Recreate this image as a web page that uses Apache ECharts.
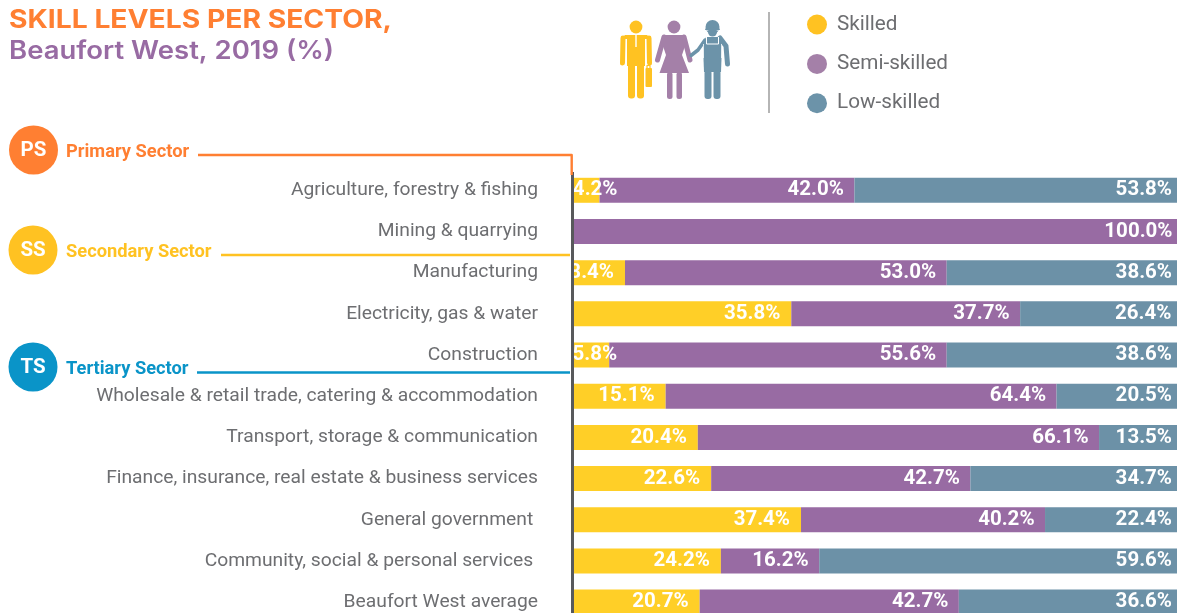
<!DOCTYPE html>
<html><head><meta charset="utf-8">
<style>html,body{margin:0;padding:0;background:#fff;overflow:hidden}#c{width:1177px;height:613px}</style>
<script src="https://cdn.jsdelivr.net/npm/echarts@6/dist/echarts.min.js"></script></head>
<body><div id="c"></div>
<script>
const categories = ['Agriculture, forestry & fishing','Mining & quarrying','Manufacturing','Electricity, gas & water','Construction','Wholesale & retail trade, catering & accommodation','Transport, storage & communication','Finance, insurance, real estate & business services','General government ','Community, social & personal services ','Beaufort West average'];
const skilled = [4.2,null,8.4,35.8,5.8,15.1,20.4,22.6,37.4,24.2,20.7];
const semiSkilled = [42.0,100.0,53.0,37.7,55.6,64.4,66.1,42.7,40.2,16.2,42.7];
const lowSkilled = [53.8,null,38.6,26.4,38.6,20.5,13.5,34.7,22.4,59.6,36.6];
const seriesNames = ['Skilled','Semi-skilled','Low-skilled'];
const barColors = ['#FFCF27','#986BA3','#6C91A7'];
const legendColors = ['#FFC222','#A480A8','#6C93A9'];
const labelShift = [{0:29,4:19},{1:2},{}];

const FONT='Roboto';
const lab=(d)=>({show:true,position:'insideRight',distance:d,color:'#fff',fontFamily:FONT,fontWeight:'bold',fontSize:20.5,
  formatter:p=>p.value==null?'':p.value.toFixed(1)+'%'});
const ser=(i,arr,d)=>({name:seriesNames[i],type:'bar',stack:'a',barWidth:25,z:2,itemStyle:{color:barColors[i]},label:lab(d),
  data:arr.map((v,k)=>labelShift[i][k]!=null?{value:v,label:{offset:[labelShift[i][k],0]}}:v),animation:false});

const txt=(x,y,t,size,color,weight,ff,align,sx)=>({type:'text',x,y,z:20,scaleX:sx||1,style:{text:t,fontSize:size,fontWeight:weight||'normal',fontFamily:ff||FONT,fill:color,textAlign:align||'left',textVerticalAlign:'middle'}});
const circ=(cx,cy,r,c)=>({type:'circle',z:15,shape:{cx,cy,r},style:{fill:c}});
const rr=(x,y,w,h,r,c)=>({type:'rect',z:15,shape:{x,y,width:w,height:h,r},style:{fill:c}});
const line=(pts,c,w,cap)=>({type:'polyline',z:16,shape:{points:pts},style:{stroke:c,lineWidth:w,fill:null,lineCap:cap||'butt',lineJoin:'round'}});
const poly=(pts,c)=>({type:'polygon',z:15,shape:{points:pts},style:{fill:c}});

const Y='#FFC222',P='#A480A8',B='#6C93A9';
const icons=[
 circ(636,27,6.4,Y),
 poly([[625,35],[647,35],[651,39],[645,39],[645,66],[627,66],[627,39],[621,39]],Y),
 line([[623,38],[622.5,63]],Y,5,'round'), line([[649,38],[649.5,63]],Y,5,'round'),
 rr(628,60,7,38.5,3,Y), rr(637,60,7,38.5,3,Y),
 line([[636,35],[636,47]],'#fff',1.4),
 rr(645.5,68,6.5,19,1,Y), line([[647,68],[647,65.5],[650,65.5],[650,68]],Y,1.2),
 circ(674,27,6.4,P),
 poly([[664,35],[684,35],[687,40],[682,55],[689,73],[659.5,73],[666,55],[661,40]],P),
 line([[664,37],[657.5,60]],P,5,'round'), line([[684,37],[690,60]],P,5,'round'),
 rr(667,72,5.5,27,2.5,P), rr(676.5,72,5.5,27,2.5,P),
 circ(712.5,27,7,B), rr(705,29.5,15,1,0.5,'#fff'), circ(712.5,32,4.5,B),rr(705,28.5,15,1.5,0.7,B),
 poly([[706,37],[719,37],[722,45],[721,72],[704,72],[703,45]],B),
 line([[705,40],[698,50],[691,55.5]],B,3.5,'round'), line([[720,38],[726,46],[727.5,64]],B,5,'round'),
 rr(704.5,70,7,29,3,B), rr(713.5,70,7,29,3,B),
 line([[706.5,37],[706.5,44],[718.5,44],[718.5,37]],'#fff',1),
 line([[703.5,44],[703.5,58]],'#fff',0.8), line([[721.5,44],[721.5,58]],'#fff',0.8)
];
const option={
 animation:false,
 legend:{orient:'vertical',left:802,top:9,icon:'circle',itemWidth:20,itemHeight:20,itemGap:18.4,
   textStyle:{color:'#6D6E71',fontFamily:FONT,fontSize:20.7,padding:[0,0,0,5]},
   data:seriesNames.map((n,i)=>({name:n,itemStyle:{color:legendColors[i]}}))},
 grid:{left:574,top:169.7,width:607,height:453,outerBoundsMode:'none',containLabel:false},
 xAxis:{type:'value',min:0,max:100,show:false},
 yAxis:{type:'category',inverse:true,data:categories,
   axisLine:{show:false},axisTick:{show:false},
   axisLabel:{color:'#6D6E71',fontFamily:FONT,fontSize:19.25,margin:36}},
 series:[ser(0,skilled,11),ser(1,semiSkilled,10.5),ser(2,lowSkilled,9)],
 graphic:{elements:[
   ...icons,
   txt(9,20,'SKILL LEVELS PER SECTOR,',25,'#FF7F32','bold','Inter','left',1.13),
   txt(9,51,'Beaufort West, 2019 (%)',25,'#986BA3',600,'Inter','left',1.1),
   line([[769,12],[769,113]],'#B5B5B5',2),
   line([[572.5,172],[572.5,613]],'#58595B',3),
   line([[198,155],[571.7,155],[571.7,175]],'#FF7F32',2.4),
   line([[221,255],[570,255]],'#FFC222',2.4),
   line([[197,372.5],[570,372.5]],'#0A94C8',2.4),
   circ(33.5,150,24.5,'#FF7F32'),circ(33,250,24.5,'#FFC222'),circ(33,367,24.5,'#0A94C8'),
   txt(33.5,151,'PS',20.5,'#fff','bold',FONT,'center'),txt(33,251,'SS',20.5,'#fff','bold',FONT,'center'),txt(33,368,'TS',20.5,'#fff','bold',FONT,'center'),
   txt(66,152,'Primary Sector',18.3,'#FF7F32','bold'),
   txt(66,252,'Secondary Sector',18.3,'#FFC222','bold'),
   txt(66,369,'Tertiary Sector',18.3,'#0A94C8','bold')
 ]}
};
echarts.init(document.getElementById('c'),null,{renderer:'canvas'}).setOption(option);
</script></body></html>
